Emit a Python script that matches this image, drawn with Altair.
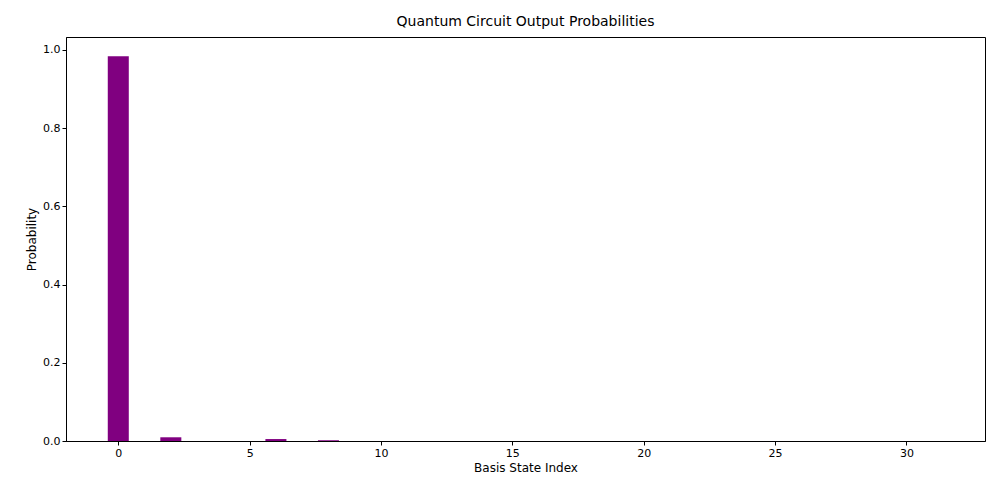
import altair as alt
import pandas as pd

states = list(range(32))
probs = [0.0] * 32
probs[0] = 0.984
probs[2] = 0.0095
probs[6] = 0.005
probs[8] = 0.0018

df = pd.DataFrame({"state": states, "prob": probs})

font = "DejaVu Sans"
chart = (
    alt.Chart(df)
    .transform_calculate(x0="datum.state - 0.4", x1="datum.state + 0.4")
    .mark_bar(color="purple")
    .encode(
        x=alt.X("x0:Q", title="Basis State Index",
                scale=alt.Scale(domain=[-1.99, 32.99], nice=False, zero=False),
                axis=alt.Axis(values=[0, 5, 10, 15, 20, 25, 30], grid=False)),
        x2="x1:Q",
        y=alt.Y("prob:Q", title="Probability",
                scale=alt.Scale(domain=[0, 1.0332], nice=False),
                axis=alt.Axis(values=[0, 0.2, 0.4, 0.6, 0.8, 1.0], format=".1f", grid=False)),
        y2=alt.datum(0),
    )
    .properties(
        width=919, height=404,
        title=alt.TitleParams("Quantum Circuit Output Probabilities", fontSize=14,
                              fontWeight="normal", font=font, offset=8),
        autosize=alt.AutoSizeParams(type="none"),
        padding={"left": 58, "top": 29, "right": 7, "bottom": 47},
    )
    .configure_axis(labelFont=font, titleFont=font, labelFontSize=11, titleFontSize=12,
                    titleFontWeight="normal", domainColor="black", tickColor="black",
                    labelColor="black", titleColor="black", tickSize=4)
    .configure_view(stroke="black", strokeWidth=1)
)

chart.save("out.html", embed_options={"renderer": "svg", "actions": False})
